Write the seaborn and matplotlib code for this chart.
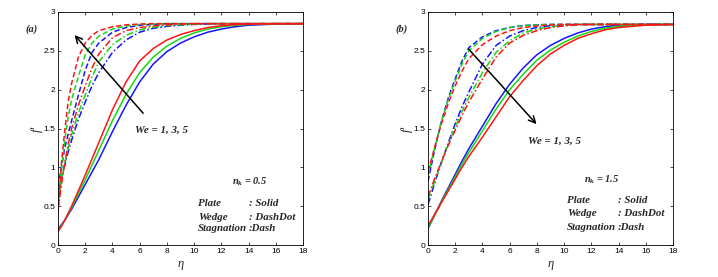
import matplotlib
matplotlib.use("Agg")
import matplotlib.pyplot as plt
import numpy as np
import pandas as pd
import seaborn as sns

# ---------------- data ----------------
eta = [0, 0.25, 0.5, 0.75, 1, 1.5, 2, 2.5, 3, 4, 5, 6, 7, 8, 9, 10, 11, 12, 13, 14, 16, 18]
we_values = [1, 3, 5]
flows = ["Plate", "Wedge", "Stagnation"]

# panel (a): n_k = 0.5
a_plate_we1 = [0.21, 0.26, 0.32, 0.39, 0.46, 0.62, 0.78, 0.94, 1.10, 1.46, 1.80, 2.10, 2.33, 2.49, 2.60, 2.68, 2.74, 2.78, 2.81, 2.83, 2.845, 2.85]
a_plate_we3 = [0.19, 0.25, 0.32, 0.40, 0.48, 0.66, 0.84, 1.03, 1.22, 1.60, 1.94, 2.22, 2.42, 2.56, 2.66, 2.73, 2.78, 2.81, 2.83, 2.84, 2.85, 2.85]
a_plate_we5 = [0.17, 0.24, 0.32, 0.41, 0.50, 0.70, 0.90, 1.11, 1.32, 1.74, 2.10, 2.37, 2.53, 2.64, 2.71, 2.76, 2.80, 2.823, 2.838, 2.845, 2.85, 2.85]
a_wedge_we1 = [0.65, 0.86, 1.03, 1.20, 1.35, 1.62, 1.84, 2.05, 2.22, 2.48, 2.64, 2.74, 2.79, 2.815, 2.83, 2.84, 2.845, 2.85, 2.85, 2.85, 2.85, 2.85]
a_wedge_we3 = [0.55, 0.82, 1.05, 1.25, 1.42, 1.70, 1.93, 2.16, 2.36, 2.58, 2.70, 2.77, 2.805, 2.825, 2.835, 2.845, 2.85, 2.85, 2.85, 2.85, 2.85, 2.85]
a_wedge_we5 = [0.45, 0.78, 1.06, 1.30, 1.50, 1.80, 2.05, 2.28, 2.46, 2.67, 2.76, 2.80, 2.82, 2.835, 2.845, 2.85, 2.85, 2.85, 2.85, 2.85, 2.85, 2.85]
a_stag_we1 = [0.75, 1.00, 1.25, 1.43, 1.60, 1.93, 2.25, 2.48, 2.60, 2.74, 2.80, 2.83, 2.84, 2.85, 2.85, 2.85, 2.85, 2.85, 2.85, 2.85, 2.85, 2.85]
a_stag_we3 = [0.55, 0.95, 1.35, 1.65, 1.87, 2.17, 2.45, 2.60, 2.69, 2.78, 2.82, 2.84, 2.845, 2.85, 2.85, 2.85, 2.85, 2.85, 2.85, 2.85, 2.85, 2.85]
a_stag_we5 = [0.40, 1.05, 1.48, 1.85, 2.08, 2.42, 2.60, 2.70, 2.76, 2.81, 2.835, 2.845, 2.85, 2.85, 2.85, 2.85, 2.85, 2.85, 2.85, 2.85, 2.85, 2.85]

# panel (b): n_k = 1.5
b_plate_we1 = [0.21, 0.30, 0.39, 0.48, 0.57, 0.74, 0.91, 1.08, 1.24, 1.53, 1.82, 2.07, 2.28, 2.45, 2.57, 2.66, 2.73, 2.78, 2.81, 2.83, 2.84, 2.84]
b_plate_we3 = [0.22, 0.30, 0.39, 0.47, 0.56, 0.72, 0.88, 1.04, 1.19, 1.47, 1.75, 2.00, 2.20, 2.38, 2.51, 2.61, 2.69, 2.75, 2.79, 2.815, 2.835, 2.84]
b_plate_we5 = [0.25, 0.32, 0.40, 0.47, 0.55, 0.70, 0.85, 1.00, 1.14, 1.39, 1.65, 1.91, 2.12, 2.31, 2.46, 2.57, 2.66, 2.72, 2.77, 2.80, 2.83, 2.84]
b_wedge_we1 = [0.52, 0.66, 0.80, 0.94, 1.07, 1.32, 1.56, 1.78, 1.97, 2.33, 2.57, 2.69, 2.76, 2.80, 2.825, 2.835, 2.84, 2.84, 2.84, 2.84, 2.84, 2.84]
b_wedge_we3 = [0.58, 0.70, 0.83, 0.95, 1.07, 1.30, 1.52, 1.72, 1.90, 2.22, 2.48, 2.63, 2.73, 2.78, 2.81, 2.83, 2.84, 2.84, 2.84, 2.84, 2.84, 2.84]
b_wedge_we5 = [0.62, 0.74, 0.86, 0.97, 1.08, 1.29, 1.48, 1.67, 1.84, 2.14, 2.42, 2.60, 2.70, 2.76, 2.80, 2.82, 2.835, 2.84, 2.84, 2.84, 2.84, 2.84]
b_stag_we1 = [0.82, 1.03, 1.23, 1.42, 1.60, 1.90, 2.14, 2.37, 2.54, 2.68, 2.76, 2.80, 2.825, 2.835, 2.84, 2.84, 2.84, 2.84, 2.84, 2.84, 2.84, 2.84]
b_stag_we3 = [0.90, 1.08, 1.26, 1.43, 1.60, 1.88, 2.11, 2.33, 2.50, 2.66, 2.75, 2.80, 2.825, 2.835, 2.84, 2.84, 2.84, 2.84, 2.84, 2.84, 2.84, 2.84]
b_stag_we5 = [0.95, 1.10, 1.27, 1.42, 1.57, 1.83, 2.05, 2.24, 2.40, 2.58, 2.69, 2.76, 2.80, 2.82, 2.833, 2.84, 2.84, 2.84, 2.84, 2.84, 2.84, 2.84]

x_ticks = [0, 2, 4, 6, 8, 10, 12, 14, 16, 18]
y_ticks = [0, 0.5, 1, 1.5, 2, 2.5, 3]
y_tick_labels = ["0", "0.5", "1", "1.5", "2", "2.5", "3"]

panel_a = {("Plate", 1): a_plate_we1, ("Plate", 3): a_plate_we3, ("Plate", 5): a_plate_we5,
           ("Wedge", 1): a_wedge_we1, ("Wedge", 3): a_wedge_we3, ("Wedge", 5): a_wedge_we5,
           ("Stagnation", 1): a_stag_we1, ("Stagnation", 3): a_stag_we3, ("Stagnation", 5): a_stag_we5}
panel_b = {("Plate", 1): b_plate_we1, ("Plate", 3): b_plate_we3, ("Plate", 5): b_plate_we5,
           ("Wedge", 1): b_wedge_we1, ("Wedge", 3): b_wedge_we3, ("Wedge", 5): b_wedge_we5,
           ("Stagnation", 1): b_stag_we1, ("Stagnation", 3): b_stag_we3, ("Stagnation", 5): b_stag_we5}


def to_long(panel):
    rows = []
    for (flow, we), vals in panel.items():
        for e, v in zip(eta, vals):
            rows.append({"eta": e, "f": v, "We": we, "flow": flow})
    return pd.DataFrame(rows)


# ---------------- style ----------------
sns.set_theme(style="white")
plt.rcParams["font.family"] = ["Liberation Sans", "DejaVu Sans"]
plt.rcParams["mathtext.fontset"] = "custom"
plt.rcParams["mathtext.it"] = "Liberation Serif:italic:bold"
plt.rcParams["mathtext.rm"] = "Liberation Serif:bold"
plt.rcParams["mathtext.bf"] = "Liberation Serif:bold"

palette = {1: "#1414ff", 3: "#14d814", 5: "#ff1414"}
dashes = {"Plate": "", "Wedge": (4.5, 1.6, 1, 1.6), "Stagnation": (3.5, 1.8)}

fig = plt.figure(figsize=(7.18, 2.77), dpi=100)
axA = fig.add_axes([58 / 718, 32 / 277, 245 / 718, 233 / 277])
axB = fig.add_axes([428 / 718, 32 / 277, 245 / 718, 233 / 277])

serif_bi = dict(family="Liberation Serif", fontweight="bold", fontstyle="italic")
FS = 7.8

for ax, panel in [(axA, panel_a), (axB, panel_b)]:
    df = to_long(panel)
    sns.lineplot(data=df, x="eta", y="f", hue="We", style="flow", palette=palette,
                 dashes=dashes, estimator=None, sort=False, legend=False,
                 linewidth=1.1, ax=ax)
    ax.set_xlim(0, 18)
    ax.set_ylim(0, 3)
    ax.set_xticks(x_ticks)
    ax.set_xticklabels([str(t) for t in x_ticks])
    ax.set_yticks(y_ticks)
    ax.set_yticklabels(y_tick_labels)
    ax.tick_params(direction="in", length=2.5, width=0.5, labelsize=6, pad=2,
                   top=True, right=True, bottom=True, left=True, colors="black")
    for sp in ax.spines.values():
        sp.set_color("black")
        sp.set_linewidth(0.6)
    ax.set_xlabel("η", family="Liberation Serif", fontstyle="italic", fontsize=9, labelpad=2)
    ax.set_ylabel("f'", family="Liberation Serif", fontstyle="italic", fontsize=9, labelpad=0)

# panel (a) annotations
fig.text(32 / 718, 1 - 29 / 277, "(a)", ha="center", va="center", fontsize=7.5, **serif_bi)
axA.annotate("", xy=(1.08, 2.73), xytext=(6.39, 1.67),
             arrowprops=dict(arrowstyle="->", lw=1.1, color="black", mutation_scale=12))
axA.text(7.64, 1.48, "We = 1, 3, 5", ha="center", va="center", fontsize=FS, **serif_bi)
axA.text(12.78, 0.82, r"$n_k$ = 0.5", ha="left", va="center", fontsize=7.5, **serif_bi)
for lab, val, yy in [("Plate", ": Solid", 0.53), ("Wedge", ": DashDot", 0.36), ("Stagnation", ":Dash", 0.21)]:
    axA.text(10.29, yy, lab, ha="left", va="center", fontsize=FS, **serif_bi)
    axA.text(14.03, yy, val, ha="left", va="center", fontsize=FS, **serif_bi)

# panel (b) annotations
fig.text(402 / 718, 1 - 29 / 277, "(b)", ha="center", va="center", fontsize=7.5, **serif_bi)
axB.annotate("", xy=(8.11, 1.53), xytext=(2.84, 2.55),
             arrowprops=dict(arrowstyle="->", lw=1.1, color="black", mutation_scale=12))
axB.text(9.33, 1.33, "We = 1, 3, 5", ha="center", va="center", fontsize=FS, **serif_bi)
axB.text(11.46, 0.84, r"$n_k$ = 1.5", ha="left", va="center", fontsize=7.5, **serif_bi)
for lab, val, yy in [("Plate", ": Solid", 0.57), ("Wedge", ": DashDot", 0.40), ("Stagnation", ":Dash", 0.23)]:
    axB.text(10.21, yy, lab, ha="left", va="center", fontsize=FS, **serif_bi)
    axB.text(13.96, yy, val, ha="left", va="center", fontsize=FS, **serif_bi)

fig.savefig("out.png", dpi=100, facecolor="white")
